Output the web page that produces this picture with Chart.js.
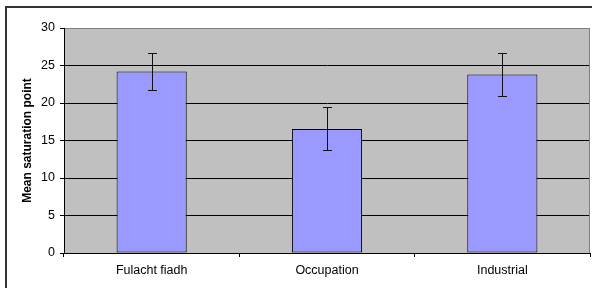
<!DOCTYPE html>
<html>
<head>
<meta charset="utf-8">
<script src="https://cdn.jsdelivr.net/npm/chart.js@4/dist/chart.umd.min.js"></script>
<style>
  html, body { margin: 0; padding: 0; background: #fff; }
  canvas { display: block; }
</style>
</head>
<body>
<canvas id="chart" width="592" height="288"></canvas>
<script>
// data
const categories = ['Fulacht fiadh', 'Occupation', 'Industrial'];
const meanValues = [24.2, 16.55, 23.8];
const errorValues = [2.45, 2.85, 2.9];
const yTicks = [0, 5, 10, 15, 20, 25, 30];

const FONT = "'Liberation Sans', Arial, sans-serif";

// grey plot area + outer frame
const backgroundPlugin = {
    id: 'background',
    beforeDraw: (chart) => {
        const ctx = chart.ctx;
        const a = chart.chartArea;
        ctx.save();
        ctx.strokeStyle = '#333333';
        ctx.lineWidth = 2;
        ctx.strokeRect(6, 7, 700, 400);
        ctx.fillStyle = '#c0c0c0';
        ctx.fillRect(a.left, a.top, a.right - a.left, a.bottom - a.top);
        ctx.restore();
    },
    afterDraw: (chart) => {
        // right edge of plot area is grey like the top
        const ctx = chart.ctx;
        const a = chart.chartArea;
        ctx.save();
        ctx.strokeStyle = '#808080';
        ctx.lineWidth = 1;
        ctx.beginPath();
        ctx.moveTo(Math.round(a.right) - 0.5, a.top);
        ctx.lineTo(Math.round(a.right) - 0.5, a.bottom);
        ctx.stroke();
        ctx.restore();
    }
};

// error bars drawn from the y scale
const errorBarPlugin = {
    id: 'errorBars',
    afterDatasetsDraw: (chart) => {
        const ctx = chart.ctx;
        const yScale = chart.scales.y;
        const meta = chart.getDatasetMeta(0);
        ctx.save();
        ctx.strokeStyle = '#111111';
        ctx.lineWidth = 1;
        meta.data.forEach((bar, i) => {
            const x = Math.round(bar.x) + 0.5;
            const top = Math.round(yScale.getPixelForValue(meanValues[i] + errorValues[i])) + 0.5;
            const bottom = Math.round(yScale.getPixelForValue(meanValues[i] - errorValues[i])) + 0.5;
            const cap = 4.5;
            ctx.beginPath();
            ctx.moveTo(x, top);
            ctx.lineTo(x, bottom);
            ctx.moveTo(x - cap, top);
            ctx.lineTo(x + cap, top);
            ctx.moveTo(x - cap, bottom);
            ctx.lineTo(x + cap, bottom);
            ctx.stroke();
        });
        ctx.restore();
    }
};

new Chart(document.getElementById('chart').getContext('2d'), {
    type: 'bar',
    data: {
        labels: categories,
        datasets: [{
            data: meanValues,
            backgroundColor: '#9999ff',
            borderColor: '#000000',
            borderWidth: 1,
            borderSkipped: false,
            barPercentage: 1,
            categoryPercentage: 0.4
        }]
    },
    options: {
        responsive: false,
        animation: false,
        devicePixelRatio: 1,
        layout: {
            padding: { top: 28, right: 2, bottom: 0, left: 0 }
        },
        plugins: {
            legend: { display: false },
            tooltip: { enabled: false }
        },
        scales: {
            x: {
                grid: {
                    drawOnChartArea: false,
                    drawTicks: true,
                    tickLength: 4,
                    color: '#000000'
                },
                border: { color: '#000000' },
                ticks: {
                    color: '#000000',
                    padding: 6,
                    font: { family: FONT, size: 12.5 }
                },
                afterFit: (scale) => { scale.height = 35; }
            },
            y: {
                min: 0,
                max: 30,
                afterBuildTicks: (scale) => {
                    scale.ticks = yTicks.map(v => ({ value: v }));
                },
                grid: {
                    color: (c) => (c.tick && c.tick.value === 30 ? '#808080' : '#000000'),
                    tickColor: '#000000',
                    tickLength: 4
                },
                border: { color: '#000000' },
                ticks: {
                    color: '#000000',
                    padding: 5,
                    font: { family: FONT, size: 12.5 }
                },
                title: {
                    display: true,
                    text: 'Mean saturation point',
                    color: '#000000',
                    padding: { top: 20, bottom: 0 },
                    font: { family: FONT, size: 12, weight: 'bold' }
                },
                afterFit: (scale) => { scale.width = 64; }
            }
        }
    },
    plugins: [backgroundPlugin, errorBarPlugin]
});
</script>
</body>
</html>
